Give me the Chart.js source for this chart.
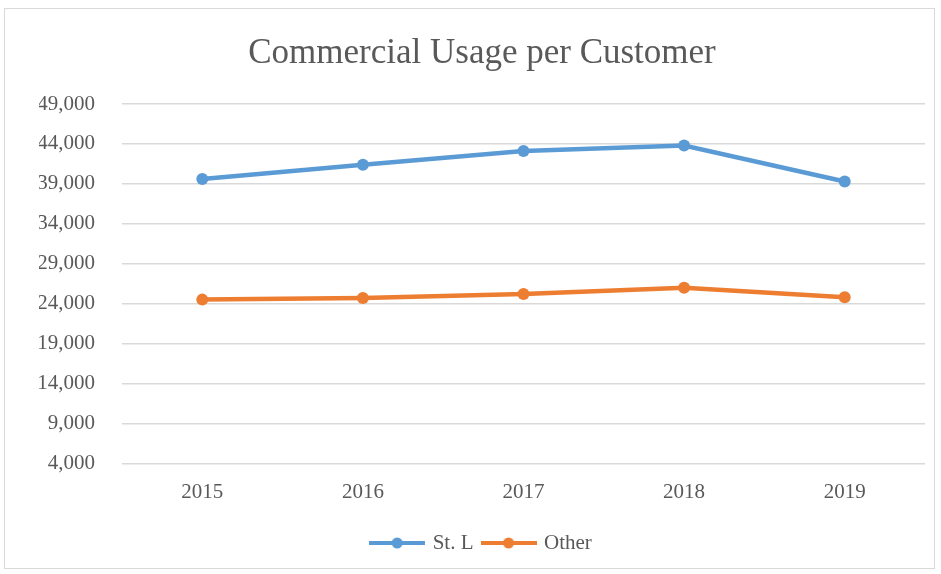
<!DOCTYPE html>
<html>
<head>
<meta charset="utf-8">
<script src="https://cdn.jsdelivr.net/npm/chart.js@4"></script>
<style>
  html, body { margin: 0; padding: 0; background: #ffffff; }
  #wrap { position: relative; width: 941px; height: 574px; }
  #frame { position: absolute; left: 4px; top: 8px; width: 931px; height: 561px; border: 1px solid #D9D9D9; box-sizing: border-box; pointer-events: none; }
  canvas { display: block; }
</style>
</head>
<body>
<div id="wrap">
  <canvas id="c" width="941" height="574"></canvas>
  <div id="frame"></div>
</div>
<script>
const categories = ['2015', '2016', '2017', '2018', '2019'];
const stlValues = [39600, 41400, 43100, 43800, 39300];
const otherValues = [24500, 24700, 25200, 26000, 24800];
const seriesNames = ['St. L', 'Other'];
const seriesColors = ['#5B9BD5', '#ED7D31'];
const chartTitle = 'Commercial Usage per Customer';
const yMin = 4000, yMax = 49000, yStep = 5000;

const FONT = "'Liberation Serif', 'Times New Roman', serif";
const TEXT = '#595959';

function legendIcon(color) {
  const cv = document.createElement('canvas');
  cv.width = 56; cv.height = 14;
  const g = cv.getContext('2d');
  g.strokeStyle = color; g.lineWidth = 4; g.lineCap = 'butt';
  g.beginPath(); g.moveTo(0, 7); g.lineTo(56, 7); g.stroke();
  g.fillStyle = color;
  g.beginPath(); g.arc(28, 7, 5.5, 0, Math.PI * 2); g.fill();
  return cv;
}

new Chart(document.getElementById('c'), {
  type: 'line',
  data: {
    labels: categories,
    datasets: [
      { label: seriesNames[0], data: stlValues, borderColor: seriesColors[0], backgroundColor: seriesColors[0],
        borderWidth: 4.5, pointRadius: 6, pointBorderWidth: 0, pointBackgroundColor: seriesColors[0], tension: 0 },
      { label: seriesNames[1], data: otherValues, borderColor: seriesColors[1], backgroundColor: seriesColors[1],
        borderWidth: 4.5, pointRadius: 6, pointBorderWidth: 0, pointBackgroundColor: seriesColors[1], tension: 0 }
    ]
  },
  options: {
    responsive: false,
    animation: false,
    layout: { padding: { left: 39, right: 16, top: 0, bottom: 10.5 } },
    plugins: {
      title: {
        display: true, text: chartTitle, color: TEXT,
        font: { family: FONT, size: 35, weight: 'normal', lineHeight: 1.2 },
        padding: { top: 33, bottom: 29 }
      },
      legend: {
        display: true, position: 'bottom',
        labels: {
          color: TEXT, font: { family: FONT, size: 21 }, padding: 10,
          usePointStyle: true, pointStyleWidth: 50,
          generateLabels: (chart) => chart.data.datasets.map((ds, i) => ({
            text: ds.label, fillStyle: ds.borderColor, strokeStyle: ds.borderColor,
            pointStyle: legendIcon(ds.borderColor), datasetIndex: i, hidden: false, lineWidth: 0, fontColor: TEXT
          }))
        }
      },
      tooltip: { enabled: false }
    },
    scales: {
      x: {
        offset: true,
        grid: { display: false, drawTicks: false },
        border: { display: false },
        ticks: { color: TEXT, font: { family: FONT, size: 21 }, padding: 17, maxRotation: 0 }
      },
      y: {
        min: yMin, max: yMax,
        grid: { color: '#D9D9D9', lineWidth: 1.5, drawTicks: false },
        border: { display: false },
        ticks: {
          stepSize: yStep, color: TEXT, font: { family: FONT, size: 21 }, padding: 27,
          callback: (v) => Number(v).toLocaleString('en-US')
        },
        afterFit: (s) => { s.width = 83; }
      }
    }
  }
});
</script>
</body>
</html>
